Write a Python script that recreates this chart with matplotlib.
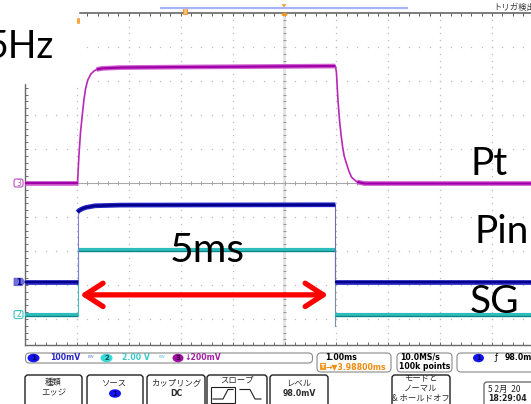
import numpy as np
import matplotlib
matplotlib.use("Agg")
import matplotlib.pyplot as plt
from matplotlib.patches import FancyBboxPatch, Rectangle, Polygon, Ellipse

plt.rcParams['font.family'] = ['DejaVu Sans', 'Noto Sans CJK JP']

W, H = 531, 404
JP = ['Noto Sans CJK JP', 'DejaVu Sans']

# ---- waveforms (time in ms from screen centre, 1.00ms/div) ----
pulse_start = -3.988          # trigger point  (T -> 3.98800ms)
pulse_end = 0.98              # 5 ms later

# ch3 "Pt" : 200 mV/div
pt_t = [-5.0, -3.988, -3.96, -3.93, -3.90, -3.865, -3.83, -3.79, -3.73, -3.67,
        -3.62, -3.52, -3.17, -2.02, -0.48, 0.98, 1.0, 1.03, 1.06, 1.09, 1.12,
        1.15, 1.19, 1.24, 1.29, 1.35, 1.40, 1.54, 4.75]
pt_mv = [0, 0, 165, 300, 388, 488, 559, 606, 641, 659,
         668, 674, 679, 682, 685, 688, 653, 488, 371, 282, 212,
         159, 118, 71, 35, 18, 6, -3, -3]

# ch1 "Pin" : 100 mV/div
pin_hi_t = [-3.988, -3.96, -3.90, -3.83, -3.65, -3.17, 0.98]
pin_hi_mv = [205, 210, 215, 219, 224, 226, 227]
pin_lo_mv = 0.0

# ch2 "SG" : 2.00 V/div
sg_hi_v = 3.82
sg_lo_v = 0.0

ch_scale = {'1': 100.0, '2': 2.0, '3': 200.0}
ch_pos = {'1': -2.91, '2': -3.87, '3': 0.0}    # divisions


def to_div(ch, vals):
    return [ch_pos[ch] + v / ch_scale[ch] for v in vals]


fig = plt.figure(figsize=(W / 100, H / 100), dpi=100)
fig.patch.set_facecolor('white')

# ---- graticule / trace axes ----
px_x, px_y = 51.9, 34.0          # pixels per division
xr = -5 + 506 / px_x
ylo = -(345 - 183) / px_y
ax = fig.add_axes([25 / W, (H - 345) / H, 506 / W, 332 / H])
ax.set_xlim(-5, xr)
ax.set_ylim(ylo, 5)
ax.axis('off')

dot = dict(ls='none', marker='s', ms=0.9, mew=0, color='#bcbcbc')
ydots = np.arange(-4.6, 5.0, 0.2)
xdots = np.arange(-5, xr, 0.2)
for tv in [-4, -3, -2, -1, 1, 2, 3, 4]:
    ax.plot(np.full(len(ydots), tv), ydots, **dot)
for dv in [-4, -3, -2, -1, 1, 2, 3, 4]:
    ax.plot(xdots, np.full(len(xdots), dv), **dot)

ax.axvline(0, color='#e2e2e2', lw=2.0, zorder=1)
ax.hlines(ydots, -0.03, 0.03, color='#9a9a9a', lw=0.8, zorder=1)
ax.axhline(0, color='#a8a8a8', lw=0.8, zorder=1)
ax.vlines(xdots, -0.05, 0.05, color='#a0a0a0', lw=0.7, zorder=1)

bc = '#6a6a6a'
ax.plot([-5, -5], [ylo, 5], color=bc, lw=1.0, clip_on=False)
ax.hlines(ydots, -5, -5 + 3 / px_x, color=bc, lw=0.7, clip_on=False)
ax.plot([-5, xr], [5, 5], color='#5a5a5a', lw=1.1, clip_on=False)
ax.vlines(xdots, 5 - 3 / px_y, 5, color='#5a5a5a', lw=0.7, clip_on=False)
ax.plot([-5, xr], [ylo, ylo], color=bc, lw=1.0, clip_on=False)
ax.vlines(xdots, ylo, ylo + 3 / px_y, color=bc, lw=0.7, clip_on=False)

# ch3 Pt
pt_y = to_div('3', pt_mv)
ax.plot(pt_t, pt_y, color='#b828b8', lw=1.2, zorder=5)
for a, b in [(0, 2), (10, 16), (26, 29)]:
    ax.plot(pt_t[a:b], pt_y[a:b], color='#d060d0', lw=3.4, zorder=5,
            solid_capstyle='butt')
    ax.plot(pt_t[a:b], pt_y[a:b], color='#a000a8', lw=1.6, zorder=6,
            solid_capstyle='butt')

# ch2 SG
sg_lo, sg_hi = to_div('2', [sg_lo_v, sg_hi_v])
ax.plot([pulse_start, pulse_start], [sg_lo, sg_hi], color='#48b8b8', lw=0.8, zorder=4)
ax.plot([pulse_end, pulse_end], [sg_hi, sg_lo - 0.35], color='#7a90a8', lw=0.8, zorder=4)
for t0, t1, lv in [(-5, pulse_start, sg_lo), (pulse_start, pulse_end, sg_hi),
                   (pulse_end, xr, sg_lo)]:
    ax.plot([t0, t1], [lv, lv], color='#2ebcbc', lw=3.0, zorder=5, solid_capstyle='butt')
    ax.plot([t0, t1], [lv - 0.03, lv - 0.03], color='#0a8484', lw=0.9, zorder=5,
            solid_capstyle='butt')

# ch1 Pin
pin_lo = to_div('1', [pin_lo_mv])[0]
pin_hi = to_div('1', pin_hi_mv)
ax.plot([pulse_start, pulse_start], [pin_lo, pin_hi[0]], color='#8080d0', lw=0.8, zorder=6)
ax.plot([pulse_end, pulse_end], [pin_hi[-1], pin_lo], color='#7070b0', lw=0.8, zorder=6)
for tt, yy in [([-5, pulse_start], [pin_lo, pin_lo]), (pin_hi_t, pin_hi),
               ([pulse_end, xr], [pin_lo, pin_lo])]:
    ax.plot(tt, yy, color='#2424c4', lw=3.4, zorder=7, solid_capstyle='butt')
    ax.plot(tt, yy, color='#00008a', lw=1.6, zorder=7, solid_capstyle='butt')

# 5 ms arrow
arrow_y = -3.29
ax.annotate('', xy=(pulse_start + 0.05, arrow_y), xytext=(pulse_end - 0.14, arrow_y),
            arrowprops=dict(arrowstyle='<->,head_length=0.65,head_width=0.42',
                            color='#ff0000', lw=3.8, shrinkA=0, shrinkB=0,
                            mutation_scale=20), zorder=9)

# ---- overlay in screen pixels ----
ov = fig.add_axes([0, 0, 1, 1])
ov.set_xlim(0, W)
ov.set_ylim(H, 0)
ov.axis('off')

ov.add_patch(Rectangle((0, 0), 78, 83, color='white', zorder=1))

ov.plot([160, 408], [8, 8], color='#a8b2f4', lw=1.6, solid_capstyle='butt')
ov.add_patch(Rectangle((182.5, 6.5), 4.5, 7, fc='#f8c070', ec='#e89020', lw=0.6))
ov.add_patch(Polygon([(281.5, 4.2), (286.5, 4.2), (284, 7.5)], fc='#f0a030', ec='none'))
ov.add_patch(Ellipse((284.5, 14.5), 6, 3.5, fc='#f09820', ec='none'))
ov.add_patch(FancyBboxPatch((77, 18), 3, 6, boxstyle='round,pad=0,rounding_size=1.2',
                            fc='#f6a840', ec='none'))
ov.text(493, 7.5, 'トリガ検出', family=JP, fontsize=6, color='#3a3a3a', va='center')

# channel markers
y3 = 183 - ch_pos['3'] * px_y
y1 = 183 - ch_pos['1'] * px_y
y2 = 183 - ch_pos['2'] * px_y
ov.add_patch(FancyBboxPatch((14, y3 - 4), 9, 8, boxstyle='round,pad=0,rounding_size=2',
                            fc='white', ec='#c050c0', lw=0.8))
ov.text(18.5, y3 + 0.3, '3', fontsize=5.5, color='#c050c0', ha='center', va='center')
ov.add_patch(Polygon([(14, y1 - 3.8), (22, y1 - 3.8), (25, y1), (22, y1 + 3.8), (14, y1 + 3.8)],
                     fc='#7070dc', ec='#5050c0', lw=0.5))
ov.text(18.5, y1 + 0.3, '1', fontsize=5.5, color='#000080', ha='center', va='center',
        weight='bold')
ov.add_patch(FancyBboxPatch((14, y2 - 4), 9, 8, boxstyle='round,pad=0,rounding_size=2',
                            fc='white', ec='#40c4c4', lw=0.8))
ov.text(18.5, y2 + 0.3, '2', fontsize=5.5, color='#30b8b8', ha='center', va='center')

# annotation labels
lbl = dict(family='Lato', color='black', va='baseline')
ov.text(54.5, 58, '5Hz', ha='right', fontsize=27, **lbl)
ov.text(470, 175, 'Pt', fontsize=28, **lbl)
ov.text(475, 243, 'Pin', fontsize=28, **lbl)
ov.text(470, 313, 'SG', fontsize=28, **lbl)
ov.text(170, 262, '5ms', fontsize=29.5, **lbl)

# ---- status bar ----
st = dict(fontsize=5.6, weight='bold', va='center')


def rbox(x, y, w, h, ec='#8a8a8a', lw=0.8, r=4):
    ov.add_patch(FancyBboxPatch((x, y), w, h, boxstyle=f'round,pad=0,rounding_size={r}',
                                fc='white', ec=ec, lw=lw))


def chip(x, y, num, fc, tc, w=12, h=8.5):
    ov.add_patch(Ellipse((x, y), w, h, fc=fc, ec='none'))
    ov.text(x, y + 0.3, num, fontsize=5, weight='bold', color=tc, ha='center', va='center')


rbox(25.5, 353, 287, 10)
chip(33.5, 358, '1', '#1414f0', '#000060')
ov.text(50, 358, '100mV', color='#2828c8', **st)
ov.text(88, 358, 'ᴮᵂ', fontsize=4.5, color='#6080e0', va='center')
chip(106.5, 358, '2', '#38d8d8', '#005050')
ov.text(122, 358, '2.00 V', color='#3cc8c8', **st)
ov.text(159, 358, 'ᴮᵂ', fontsize=4.5, color='#60c0e0', va='center')
chip(178, 358, '3', '#a010a0', '#400040', w=11)
ov.text(184, 358, '↓200mV', color='#a020a0', **st)

rbox(317, 353, 74, 19)
ov.text(325, 357.5, '1.00ms', color='black', **st)
ov.add_patch(Rectangle((319.5, 363), 6, 6.5, fc='#f59a23', ec='none'))
ov.text(322.5, 366.5, 'T', fontsize=4.5, weight='bold', color='white', ha='center', va='center')
ov.text(326, 366.5, '→▼3.98800ms', color='#f08c10', **st)

rbox(397, 353, 55, 19)
ov.text(400.5, 357.5, '10.0MS/s', color='black', **st)
ov.text(399, 366.5, '100k points', color='black', **st)

rbox(457, 353, 85, 19)
chip(478.5, 358, '1', '#1414f0', '#000060', w=11)
ov.text(495, 358, 'ƒ', fontsize=6, color='black', va='center')
ov.text(505, 358, '98.0m', color='black', **st)

# ---- soft-key buttons ----
bt = dict(family=JP, fontsize=6, color='#2a2a2a', ha='center', va='center')


def button(x0, x1, top=375):
    rbox(x0, top, x1 - x0, 40, ec='#202020', lw=1.0, r=3)


button(25, 82)
ov.text(53.5, 383, '種類', **bt)
ov.text(53.5, 393, 'エッジ', **bt)
button(87, 143)
ov.text(115, 383, 'ソース', **bt)
chip(115, 393.5, '1', '#1414f0', '#000060')
button(147, 205)
ov.text(176, 383, 'カップリング', **bt)
ov.text(176, 393, 'DC', fontsize=5.6, weight='bold', color='#2a2a2a', ha='center', va='center')
button(207, 267)
ov.text(237, 380.5, 'スロープ', **bt)
ov.add_patch(Rectangle((211, 387), 24, 16, fc='white', ec='#202020', lw=0.8))
ov.plot([213, 223, 228, 233], [399, 399, 389.5, 389.5], color='#202020', lw=0.8)
ov.plot([240, 250, 255, 261], [389.5, 389.5, 399, 399], color='#202020', lw=0.8)
button(270, 328)
ov.text(299, 383, 'レベル', **bt)
ov.text(299, 393, '98.0mV', fontsize=5.6, weight='bold', color='#2a2a2a', ha='center',
        va='center')
button(392, 450)
ov.text(421, 378.5, 'モードと', **bt)
ov.text(421, 388, 'ノーマル', **bt)
ov.text(421, 397.5, '& ホールドオフ', **bt)

rbox(484, 382, 60, 30, ec='#606060', lw=0.9, r=3)
ov.text(488, 389, '5 2月  20', family=JP, fontsize=6, color='#222222', va='center')
ov.text(488, 398.5, '18:29:04', fontsize=5.6, weight='bold', color='#222222', va='center')

fig.savefig('out.png', dpi=100, facecolor='white')
